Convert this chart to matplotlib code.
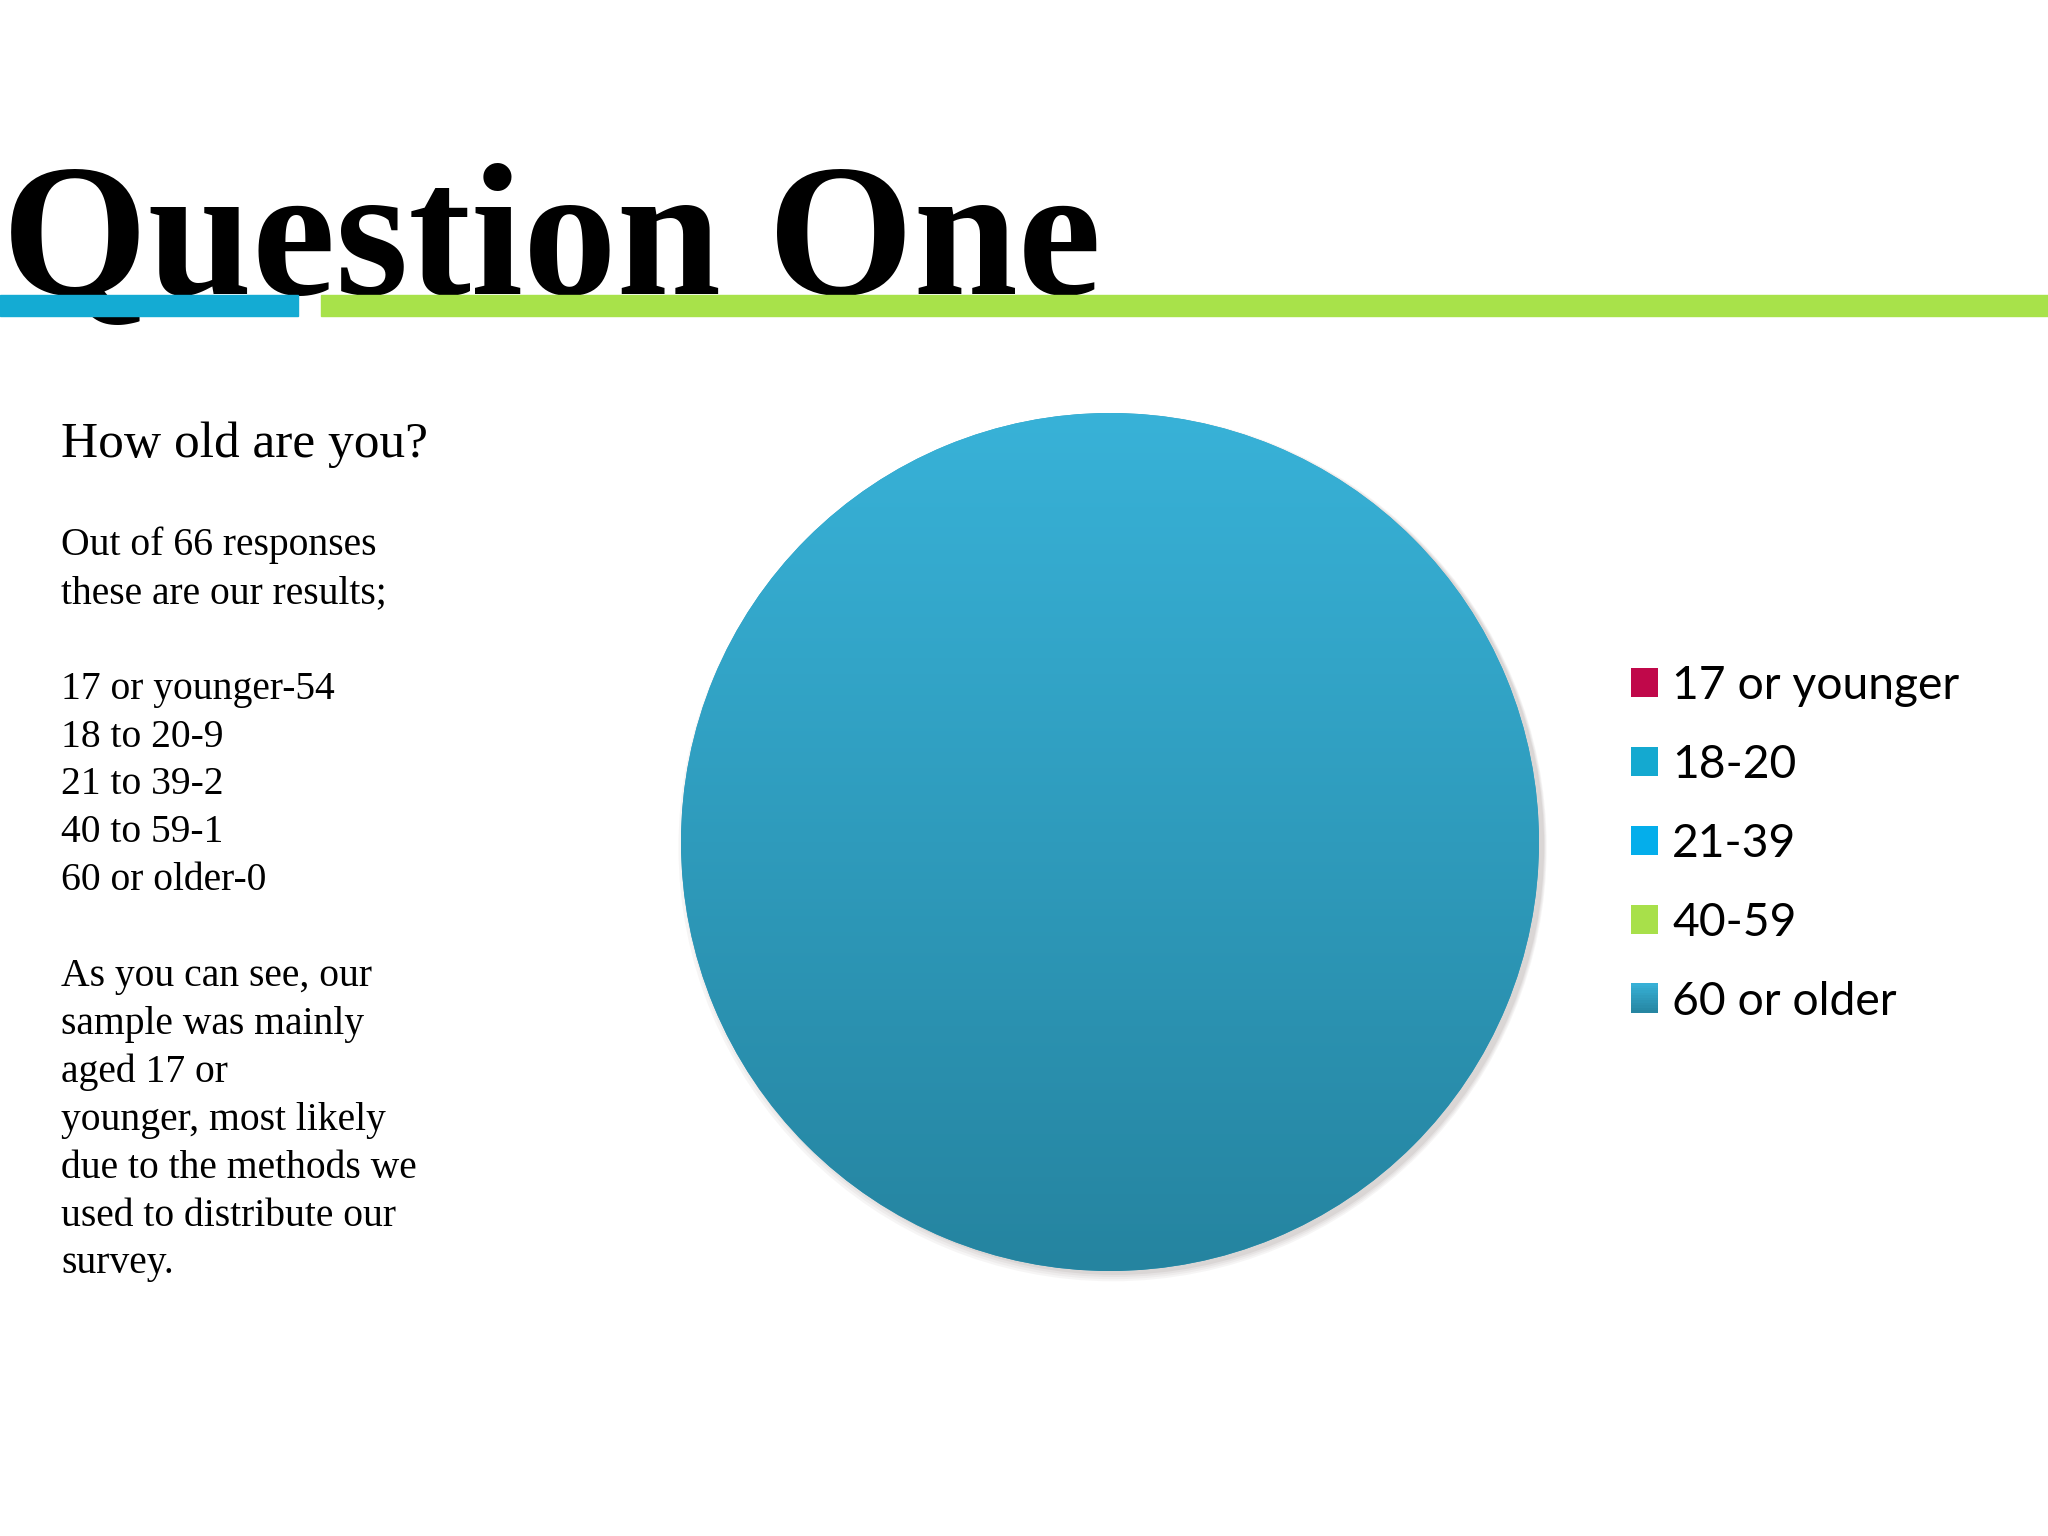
"""Question One slide: age breakdown pie with notes on the left."""
import numpy as np
import matplotlib
matplotlib.use("Agg")
import matplotlib.pyplot as plt
from matplotlib.patches import Rectangle, Circle
from matplotlib.legend_handler import HandlerPatch
from matplotlib.colors import LinearSegmentedColormap

# data
categories = ["17 or younger", "18-20", "21-39", "40-59", "60 or older"]
pie_values = [0, 0, 0, 0, 1]          # the chart as drawn: one slice fills the circle
slice_colors = ["#C0084A", "#14A9D0", "#04AEEB", "#A8E04A", "#2F9EC0"]
grad_top, grad_bottom = "#38B2D8", "#2584A0"

title = "Question One"
question = "How old are you?"
notes = ["Out of 66 responses", "these are our results;", "",
         "17 or younger-54", "18 to 20-9", "21 to 39-2", "40 to 59-1", "60 or older-0", "",
         "As you can see, our", "sample was mainly", "aged 17 or",
         "younger, most likely", "due to the methods we", "used to distribute our",
         "survey."]

W, H = 2048, 1536
fig = plt.figure(figsize=(W / 100, H / 100), dpi=100)
fig.patch.set_facecolor("white")
serif = "Liberation Serif"


def px(x, y):
    return x / W, 1 - y / H


# title and the two rules under it (rules sit on top of the Q tail)
fig.text(*px(2, 294), title, family=serif, weight="bold", fontsize=135,
         va="baseline", ha="left", zorder=1)
fig.patches.append(Rectangle(px(0, 316), 298 / W, 21 / H, transform=fig.transFigure,
                             color="#14ABD3", zorder=3))
fig.patches.append(Rectangle(px(321, 316), (W - 321) / W, 21 / H, transform=fig.transFigure,
                             color="#A8E24A", zorder=3))

# left-hand notes
fig.text(*px(61, 457), question, family=serif, fontsize=37, va="baseline")
for i, line in enumerate(notes):
    fig.text(*px(61, 555 + i * 47.9), line, family=serif, fontsize=28.5, va="baseline")

# pie
cx, cy, r = 1110, 842, 429
ax = fig.add_axes([(cx - r) / W, 1 - (cy + r) / H, 2 * r / W, 2 * r / H])
wedges, _ = ax.pie(pie_values, colors=slice_colors, radius=1, startangle=90,
                   counterclock=False, wedgeprops=dict(linewidth=0))
ax.set_xlim(-1, 1); ax.set_ylim(-1, 1); ax.set_aspect("equal")
ax.axis("off")

# soft shadow bottom-right
for k, a in enumerate([0.05, 0.05, 0.06, 0.08]):
    ax.add_patch(Circle((0.006 + 0.002 * k, -0.012 + 0.001 * k), 1.0 + 0.004 * (3 - k),
                        color="#5a4a48", alpha=a, lw=0, zorder=0, clip_on=False))

grad = LinearSegmentedColormap.from_list("g", [grad_bottom, grad_top])
gy = np.linspace(0, 1, 256).reshape(-1, 1)
big = wedges[-1]
big.set_zorder(1)
big.set_clip_on(False)
im = ax.imshow(gy, cmap=grad, extent=[-1, 1, -1, 1], origin="lower",
               aspect="auto", zorder=2)
im.set_clip_path(big)


class GradientHandler(HandlerPatch):
    def create_artists(self, legend, orig_handle, xdescent, ydescent, width, height,
                       fontsize, trans):
        n = 12
        out = []
        for j in range(n):
            c = grad(1 - (j + 0.5) / n)
            out.append(Rectangle((-xdescent, -ydescent + height * (n - 1 - j) / n),
                                 width, height / n + 0.3, color=c, lw=0, transform=trans))
        return out


leg = fig.legend(wedges, categories, loc="upper left", bbox_to_anchor=px(1612, 646),
                 frameon=False, prop=dict(family="Lato", size=33.3),
                 handlelength=0.6, handleheight=0.6, handletextpad=0.3,
                 labelspacing=0.8, borderaxespad=0,
                 handler_map={big: GradientHandler()})

fig.savefig("out.png", dpi=100)
